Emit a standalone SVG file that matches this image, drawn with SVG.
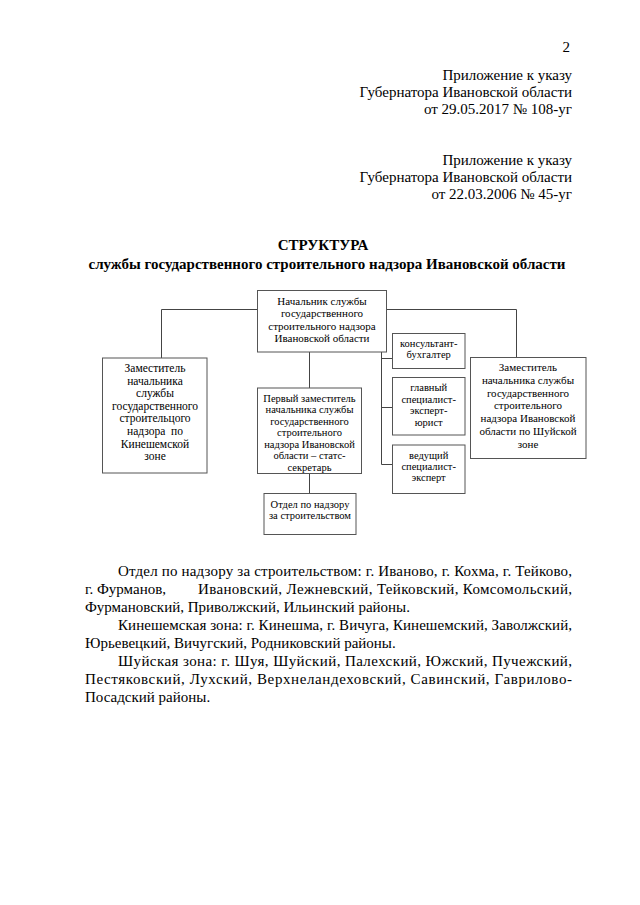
<svg xmlns="http://www.w3.org/2000/svg" width="640" height="905" viewBox="0 0 640 905">
<style>
text{font-family:"Liberation Serif","Times New Roman",serif;fill:#000}
.h{font-size:15px;text-anchor:end}
.t{font-size:15px;font-weight:bold;text-anchor:middle}
.b{font-size:15px}
.n{font-size:10.5px;text-anchor:middle}
.m{font-size:11px}
.k{font-size:11.5px}
.box{fill:#fff;stroke:#555;stroke-width:1}
.c{fill:none;stroke:#444;stroke-width:1}
</style>
<rect width="640" height="905" fill="#fff"/>
<text class="h" x="570" y="52">2</text>
<text class="h" x="572" y="80">Приложение к указу</text>
<text class="h" x="572" y="97">Губернатора Ивановской области</text>
<text class="h" x="572" y="114">от 29.05.2017 № 108-уг</text>
<text class="h" x="572" y="165">Приложение к указу</text>
<text class="h" x="572" y="182">Губернатора Ивановской области</text>
<text class="h" x="572" y="199">от 22.03.2006 № 45-уг</text>
<text class="t" x="323" y="250">СТРУКТУРА</text>
<text class="t" x="327" y="269">службы государственного строительного надзора Ивановской области</text>
<g id="connectors">
<path class="c" d="M257.5,309.5H161.5V358"/>
<path class="c" d="M386.5,309.5H516.5V357.5"/>
<path class="c" d="M309.5,352V388"/>
<path class="c" d="M309.5,473.5V493.5"/>
<path class="c" d="M381.5,352V464.5H392.5M381.5,358.5H392.5M381.5,407.5H392.5"/>
</g>
<g id="chief">
<rect class="box" x="257.5" y="290.5" width="129" height="61.5"/>
<text class="n m" x="322" y="305">Начальник службы</text>
<text class="n m" x="322" y="317.3">государственного</text>
<text class="n m" x="322" y="329.6">строительного надзора</text>
<text class="n m" x="322" y="341.9">Ивановской области</text>
</g>
<g id="kineshma">
<rect class="box" x="102.5" y="358" width="104.5" height="115"/>
<text class="n k" x="155" y="372">Заместитель</text>
<text class="n k" x="155" y="384.6">начальника</text>
<text class="n k" x="155" y="397.2">службы</text>
<text class="n k" x="155" y="409.8">государственного</text>
<text class="n k" x="155" y="422.4">строительцого</text>
<text class="n k" x="155" y="435" xml:space="preserve">надзора  по</text>
<text class="n k" x="155" y="447.6">Кинешемской</text>
<text class="n k" x="155" y="460.2">зоне</text>
</g>
<g id="first-deputy">
<rect class="box" x="257.5" y="388" width="104" height="85.5"/>
<text class="n" x="309.5" y="401.5">Первый заместитель</text>
<text class="n" x="309.5" y="413">начальника службы</text>
<text class="n" x="309.5" y="424.5">государственного</text>
<text class="n" x="309.5" y="436">строительного</text>
<text class="n" x="309.5" y="447.5">надзора Ивановской</text>
<text class="n" x="309.5" y="459">области – статс-</text>
<text class="n" x="309.5" y="470.5">секретарь</text>
</g>
<g id="department">
<rect class="box" x="264" y="493.5" width="92" height="41"/>
<text class="n" x="310" y="508">Отдел по надзору</text>
<text class="n" x="310" y="519">за строительством</text>
</g>
<g id="consultant">
<rect class="box" x="392.5" y="333.5" width="72.5" height="35"/>
<text class="n" x="428.7" y="347">консультант-</text>
<text class="n" x="428.7" y="358">бухгалтер</text>
</g>
<g id="chief-specialist">
<rect class="box" x="392.5" y="377.5" width="72.5" height="57.5"/>
<text class="n" x="428.7" y="391.3">главный</text>
<text class="n" x="428.7" y="402.6">специалист-</text>
<text class="n" x="428.7" y="414">эксперт-</text>
<text class="n" x="428.7" y="425.5">юрист</text>
</g>
<g id="leading-specialist">
<rect class="box" x="392.5" y="445" width="72.5" height="48.5"/>
<text class="n" x="428.7" y="459">ведущий</text>
<text class="n" x="428.7" y="470">специалист-</text>
<text class="n" x="428.7" y="481.3">эксперт</text>
</g>
<g id="shuya">
<rect class="box" x="470.5" y="357.5" width="115.5" height="101"/>
<text class="n m" x="528" y="371.3">Заместитель</text>
<text class="n m" x="528" y="384">начальника службы</text>
<text class="n m" x="528" y="396.7">государственного</text>
<text class="n m" x="528" y="409.4">строительного</text>
<text class="n m" x="528" y="422.1">надзора Ивановской</text>
<text class="n m" x="528" y="434.8">области по Шуйской</text>
<text class="n m" x="528" y="447.5">зоне</text>
</g>
<text class="b" x="118" y="576" textLength="454" lengthAdjust="spacing">Отдел по надзору за строительством: г. Иваново, г. Кохма, г. Тейково,</text>
<text class="b" x="85" y="594">г. Фурманов,</text>
<text class="b" x="198" y="594" textLength="374" lengthAdjust="spacing">Ивановский, Лежневский, Тейковский, Комсомольский,</text>
<text class="b" x="85" y="612">Фурмановский, Приволжский, Ильинский районы.</text>
<text class="b" x="118" y="630" textLength="454" lengthAdjust="spacing">Кинешемская зона: г. Кинешма, г. Вичуга, Кинешемский, Заволжский,</text>
<text class="b" x="85" y="648">Юрьевецкий, Вичугский, Родниковский районы.</text>
<text class="b" x="118" y="666" textLength="454" lengthAdjust="spacing">Шуйская зона: г. Шуя, Шуйский, Палехский, Южский, Пучежский,</text>
<text class="b" x="85" y="684" textLength="487" lengthAdjust="spacing">Пестяковский, Лухский, Верхнеландеховский, Савинский, Гаврилово-</text>
<text class="b" x="85" y="702">Посадский районы.</text>
</svg>
